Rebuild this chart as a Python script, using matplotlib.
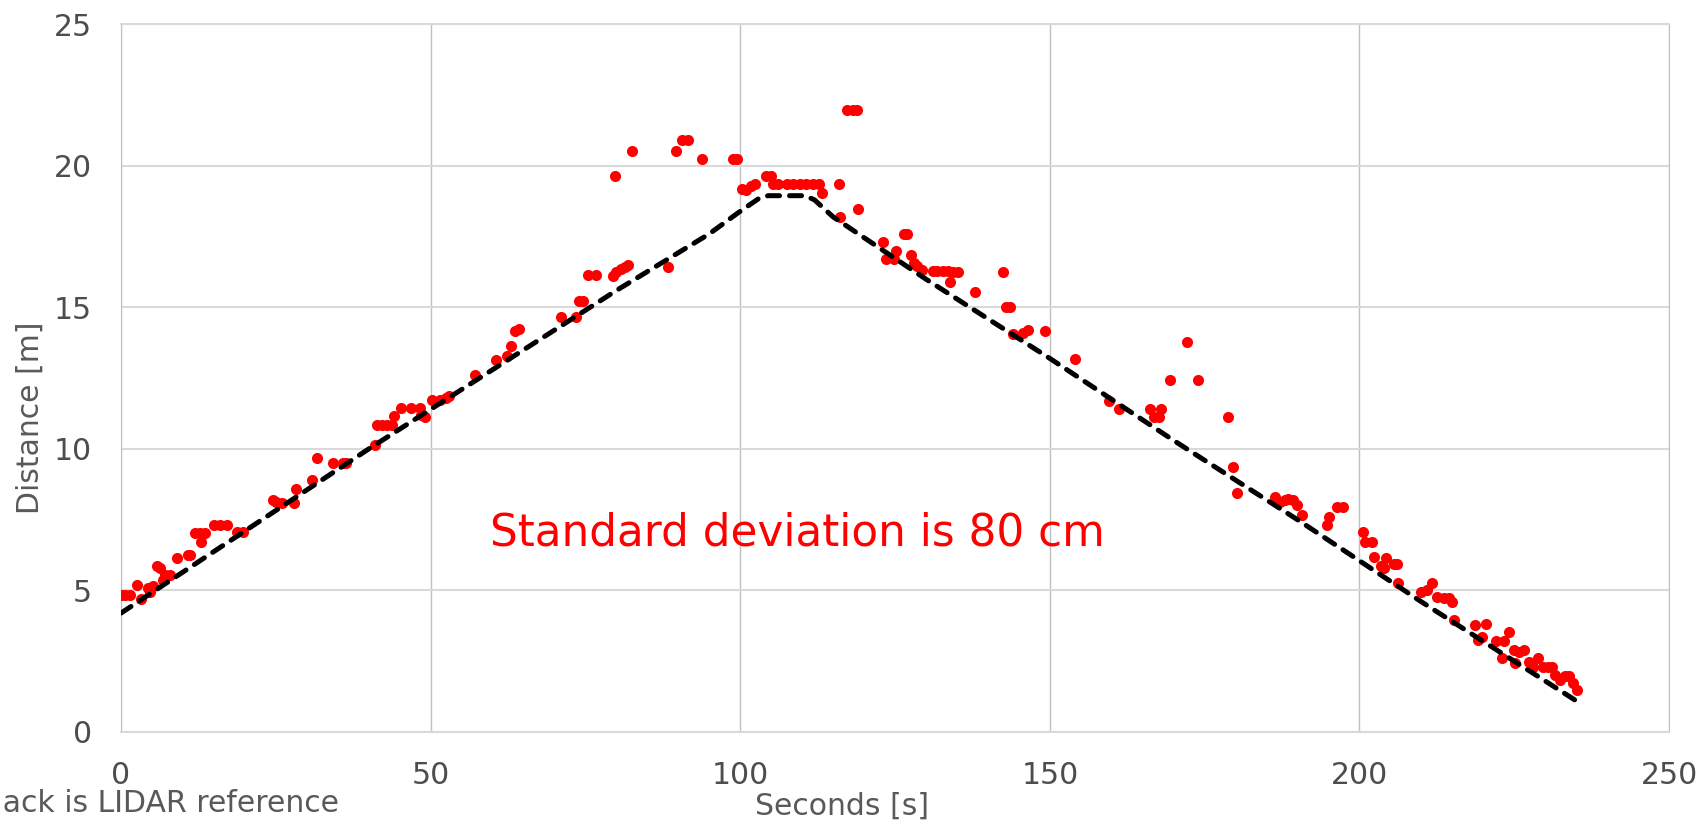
import matplotlib.pyplot as plt

# LIDAR reference track (vertices)
lidar_t = [0, 20, 40, 60, 80, 95, 100, 103, 104.5, 110.5, 112, 115, 130, 150, 170, 190, 210, 225, 235]
lidar_d = [4.2, 7.1, 10.0, 12.8, 15.6, 17.6, 18.4, 18.85, 18.95, 18.95, 18.8, 18.2, 16.0, 13.2, 10.3, 7.5, 4.6, 2.5, 1.1]

# measured points
time_s = [
    0.0, 0.6, 1.4, 2.6, 3.2, 4.4, 5.1, 4.7, 5.8, 6.3, 6.8, 7.1, 7.9, 9.0, 10.9, 11.2,
    12.0, 12.8, 13.6, 13.0, 15.0, 16.0, 17.2, 18.7, 19.7, 24.6, 25.1, 25.95, 27.95, 28.3,
    30.8, 31.7, 34.2, 35.9, 36.35, 41.0,
    41.3, 42.1, 42.9, 43.7, 44.1, 45.3, 46.8, 48.3, 48.5, 49.1, 50.3, 51.5, 52.5, 53.0,
    57.1, 60.6, 62.3, 63.0, 63.6, 64.3, 71.0, 73.5, 73.9, 74.6, 75.4, 76.7, 79.4, 80.0,
    80.7, 81.4, 81.9, 79.8, 82.6,
    88.4, 89.6, 90.55, 91.6, 93.9, 98.8, 99.5, 100.25, 101.0, 101.8, 102.4, 104.2, 104.9,
    105.3, 106.1, 107.5, 108.6, 109.6, 110.7, 111.8, 112.8, 113.2, 115.9, 116.1, 117.3,
    118.2, 118.8, 119.1, 123.0, 123.6, 124.8, 125.2, 126.4, 127.0, 127.5,
    128.0, 128.6, 129.3, 131.1, 131.8, 132.7, 133.5, 134.3, 135.1, 133.9, 137.9, 142.5,
    142.9, 143.6, 144.1, 145.7, 146.5, 149.2, 154.1, 159.5, 161.1, 166.2, 168.0, 166.8,
    167.6, 169.4, 172.1, 174.0, 178.7, 179.6, 180.2,
    186.4, 187.2, 188.0, 188.5, 189.3, 189.9, 190.7, 194.7, 195.1, 196.4, 197.3, 200.6,
    200.9, 202.0, 202.4, 203.4, 204.0, 204.3, 205.5, 206.0, 206.3, 210.0, 210.9, 211.7,
    212.5, 213.6, 214.4, 214.9, 215.2, 218.7, 220.5, 219.2, 219.8, 222.0, 223.4, 224.1,
    223.0, 224.9, 225.7, 226.5, 225.2, 227.3, 228.1, 228.9, 229.7, 230.5, 231.1, 231.6,
    232.4, 233.2, 233.8, 234.5, 235.1,
]
dist_m = [
    4.85, 4.85, 4.85, 5.2, 4.69, 5.08, 5.14, 4.93, 5.85, 5.8, 5.37, 5.55, 5.55, 6.14, 6.24, 6.27,
    7.03, 7.03, 7.03, 6.71, 7.32, 7.32, 7.32, 7.08, 7.08, 8.2, 8.14, 8.08, 8.1, 8.6,
    8.89, 9.67, 9.5, 9.5, 9.5, 10.15,
    10.86, 10.86, 10.86, 10.86, 11.15, 11.45, 11.45, 11.45, 11.2, 11.13, 11.74, 11.74, 11.8, 11.86,
    12.6, 13.15, 13.3, 13.65, 14.18, 14.25, 14.66, 14.66, 15.24, 15.24, 16.14, 16.14, 16.1, 16.24,
    16.35, 16.44, 16.5, 19.66, 20.54,
    16.42, 20.54, 20.91, 20.91, 20.25, 20.25, 20.25, 19.17, 19.14, 19.28, 19.38, 19.66, 19.66,
    19.37, 19.37, 19.37, 19.37, 19.37, 19.37, 19.37, 19.37, 19.05, 19.37, 18.19, 21.99,
    21.99, 21.99, 18.48, 17.3, 16.71, 16.71, 17.0, 17.6, 17.6, 16.84,
    16.57, 16.45, 16.33, 16.28, 16.28, 16.28, 16.28, 16.24, 16.24, 15.9, 15.54, 16.24,
    15.0, 15.0, 14.06, 14.1, 14.2, 14.18, 13.19, 11.7, 11.42, 11.42, 11.42, 11.13,
    11.13, 12.42, 13.77, 12.42, 11.13, 9.38, 8.46,
    8.3, 8.14, 8.18, 8.23, 8.2, 8.03, 7.67, 7.32, 7.61, 7.94, 7.94, 7.05,
    6.73, 6.73, 6.18, 5.85, 5.78, 6.15, 5.94, 5.94, 5.26, 4.93, 5.0, 5.28,
    4.78, 4.72, 4.72, 4.6, 3.96, 3.78, 3.82, 3.25, 3.37, 3.23, 3.2, 3.52,
    2.6, 2.9, 2.83, 2.9, 2.43, 2.48, 2.3, 2.6, 2.3, 2.3, 2.3, 2.02,
    1.84, 1.96, 1.96, 1.74, 1.48,
]

x_ticks = [0, 50, 100, 150, 200, 250]
y_ticks = [0, 5, 10, 15, 20, 25]

plt.rcParams['font.family'] = ['DejaVu Sans']

fig = plt.figure(figsize=(17.04, 8.24), dpi=100)
ax = fig.add_axes([0.0710, 0.1117, 0.9085, 0.8586])

ax.plot(time_s, dist_m, 'o', color='#ff0000', markersize=8, markeredgewidth=0, zorder=3)
ax.plot(lidar_t, lidar_d, color='black', linewidth=3.6, linestyle=(0, (2.4, 2.0)),
        dash_capstyle='round', zorder=4)

ax.set_xlim(0, 250)
ax.set_ylim(0, 25)
ax.set_xticks(x_ticks)
ax.set_yticks(y_ticks)
ax.tick_params(length=0, pad=21, labelsize=21.5, labelcolor='#4d4d4d')

ax.grid(axis='y', color='#d9d9d9', linewidth=1.5, zorder=0)
ax.grid(axis='x', color='#c0c0c0', linewidth=1.0, zorder=0)
ax.set_axisbelow(True)
ax.spines['left'].set_color('#c0c0c0')
ax.spines['right'].set_color('#c0c0c0')
ax.spines['top'].set_color('#d9d9d9')
ax.spines['bottom'].set_color('#d9d9d9')
ax.spines['top'].set_linewidth(1.5)
ax.spines['bottom'].set_linewidth(1.5)

ax.text(59.6, 7.04, 'Standard deviation is 80 cm', color='#ff0000', fontsize=31.5,
        va='center', ha='left')

fig.text(30 / 1704, 1 - 418 / 824, 'Distance [m]', rotation=90, ha='center', va='center',
         fontsize=21.5, color='#595959')
fig.text(842 / 1704, 1 - 806 / 824, 'Seconds [s]', ha='center', va='center',
         fontsize=21.5, color='#595959')
fig.text(339 / 1704, 1 - 803 / 824, 'Black is LIDAR reference', ha='right', va='center',
         fontsize=21.5, color='#595959')

fig.savefig('out.png', dpi=100)
